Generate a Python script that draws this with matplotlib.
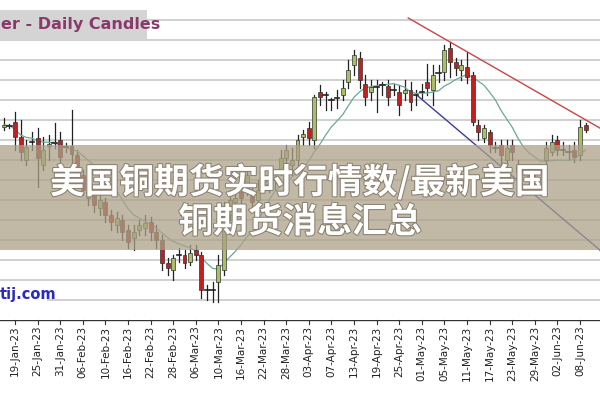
import matplotlib
matplotlib.use("Agg")
import matplotlib.pyplot as plt
import matplotlib.patheffects as pe
import numpy as np
import pandas as pd
from matplotlib.patches import Rectangle

# candle data (index = trading day from 19-Jan-23, value scale hidden)
idx = list(range(-2, 102))
opens = [193,194,198,183,160,178,182,155,174,177,180,173,174,165,145,122,128,112,118,105,95,100,90,82,90,92,98,88,80,57,50,65,65,58,70,65,30,30,38,50,105,118,128,130,125,120,138,135,140,150,162,155,160,183,192,180,228,225,220,222,225,238,255,262,236,228,233,235,234,230,228,227,230,225,228,238,230,247,248,272,258,250,253,245,195,182,188,172,175,160,175,155,150,145,148,152,160,168,180,170,168,170,165,195]
closes = [195,194,183,168,173,178,162,170,176,177,163,173,166,150,130,128,115,120,105,98,102,88,78,88,95,97,88,80,57,52,62,65,57,67,65,30,30,30,55,110,120,122,122,145,118,130,145,135,140,162,170,160,180,186,182,223,223,225,220,222,232,250,265,240,223,233,233,235,223,230,215,230,218,225,228,232,245,247,270,258,252,255,243,198,188,192,175,172,165,172,168,148,150,140,148,152,172,178,170,170,168,163,193,190]
highs = [202,196,208,200,180,188,192,183,185,197,188,177,210,170,150,135,132,125,122,110,108,105,95,95,100,105,103,95,85,62,65,72,70,75,75,68,35,38,65,118,130,128,135,150,135,140,150,142,148,170,175,172,185,190,198,225,235,228,222,230,240,260,270,268,245,240,240,238,240,236,235,240,238,230,236,256,255,255,275,278,262,260,268,248,200,195,190,178,180,180,180,160,155,152,152,156,178,185,184,178,175,178,200,197]
lows = [190,192,170,160,155,170,133,150,160,172,155,168,158,145,125,115,108,105,98,90,88,80,72,70,85,85,80,72,50,45,40,58,52,55,60,22,20,18,18,45,100,112,115,125,110,115,130,128,130,145,155,145,150,175,175,172,215,210,210,212,220,232,245,232,215,220,208,225,215,225,205,220,210,215,222,225,215,238,240,243,245,240,237,195,180,178,168,168,155,152,160,140,145,130,142,148,157,165,165,165,160,158,160,188]

tick_pos = list(range(0, 101, 4))
tick_labels = ["19-Jan-23","25-Jan-23","31-Jan-23","06-Feb-23","10-Feb-23","16-Feb-23",
               "22-Feb-23","28-Feb-23","06-Mar-23","10-Mar-23","16-Mar-23","22-Mar-23",
               "28-Mar-23","03-Apr-23","07-Apr-23","13-Apr-23","19-Apr-23","25-Apr-23",
               "01-May-23","05-May-23","11-May-23","17-May-23","23-May-23","29-May-23",
               "02-Jun-23","08-Jun-23"]
red_trend_x = [69.6, 103.5]; red_trend_y = [302, 192]
blue_trend_x = [71.3, 103.5]; blue_trend_y = [224, 70]

plt.rcParams['font.family'] = ['DejaVu Sans']
fig = plt.figure(figsize=(6, 4), dpi=100)
ax = fig.add_axes([0, 0.2, 1, 0.8])
xmin, xmax = (0 - 15) / 5.65, (600 - 15) / 5.65
ax.set_xlim(xmin, xmax)
ax.set_ylim(0, 320)
for g in range(20, 320, 20):
    ax.axhline(g, color='#c8c8c8', lw=1.2, zorder=0)

for i, o, c, h, l in zip(idx, opens, closes, highs, lows):
    ax.plot([i, i], [l, h], color='#222222', lw=0.9, zorder=2)
    if abs(c - o) < 1:
        ax.plot([i - 0.4, i + 0.4], [o, o], color='#222222', lw=1.2, zorder=3)
    else:
        col = '#a8c060' if c > o else '#c0201e'
        ax.add_patch(Rectangle((i - 0.35, min(o, c)), 0.7, abs(c - o), facecolor=col,
                               edgecolor='#333333', lw=0.5, zorder=3))
ma = pd.Series(closes).rolling(10, min_periods=1).mean()
ax.plot(idx, ma, color='#6aa898', lw=0.9, zorder=2)
ax.plot(red_trend_x, red_trend_y, color='#cc4444', lw=1.0, zorder=2)
ax.plot(blue_trend_x, blue_trend_y, color='#3a3aa0', lw=1.0, zorder=2)

for s in ax.spines.values():
    s.set_visible(False)
ax.set_yticks([])
ax.set_xticks([])

# date axis
ax2 = fig.add_axes([0, 0.0, 1, 0.2])
ax2.set_xlim(xmin, xmax)
ax2.set_ylim(0, 1)
ax2.axhline(1, color='#333333', lw=1)
for s in ax2.spines.values():
    s.set_visible(False)
ax2.set_yticks([])
ax2.set_xticks([])
for p, t in zip(tick_pos, tick_labels):
    ax2.plot([p, p], [0.95, 1.0], color='#333333', lw=0.8, clip_on=False)
    ax2.text(p, 0.93, t, rotation=90, ha='center', va='top', fontsize=7.5, color='#222222')

# watermarks
fig.patches.append(Rectangle((0, 1 - 40 / 400), 147 / 600, 30 / 400, transform=fig.transFigure,
                             facecolor='#d4d4d4', edgecolor='none', zorder=5))
fig.text(0.002, 1 - 25 / 400, "er - Daily Candles", color='#8a3a6a', fontsize=11.5,
         fontweight='bold', va='center', ha='left', zorder=6)
fig.patches.append(Rectangle((0, 1 - 304 / 400), 47 / 600, 18 / 400, transform=fig.transFigure,
                             facecolor='white', edgecolor='none', zorder=5))
fig.text(0.0, 1 - 295 / 400, "tij.com", color='#2a2ac0', fontsize=10.5, fontweight='bold',
         va='center', ha='left', zorder=6)

# overlay band
fig.patches.append(Rectangle((0, 1 - 250 / 400), 1, 105 / 400, transform=fig.transFigure,
                             facecolor='#aca188', edgecolor='none', alpha=0.75, zorder=7))
cjk = ['Noto Sans CJK SC', 'DejaVu Sans']
fx = [pe.withStroke(linewidth=1.5, foreground='#8a8070')]
fig.text(0.5, 1 - 182 / 400, "美国铜期货实时行情数/最新美国", color='white', fontsize=25,
         fontweight='bold', family=cjk, ha='center', va='center', zorder=8, path_effects=fx)
fig.text(0.5, 1 - 222 / 400, "铜期货消息汇总", color='white', fontsize=25,
         fontweight='bold', family=cjk, ha='center', va='center', zorder=8, path_effects=fx)

fig.savefig("out.png", dpi=100)
